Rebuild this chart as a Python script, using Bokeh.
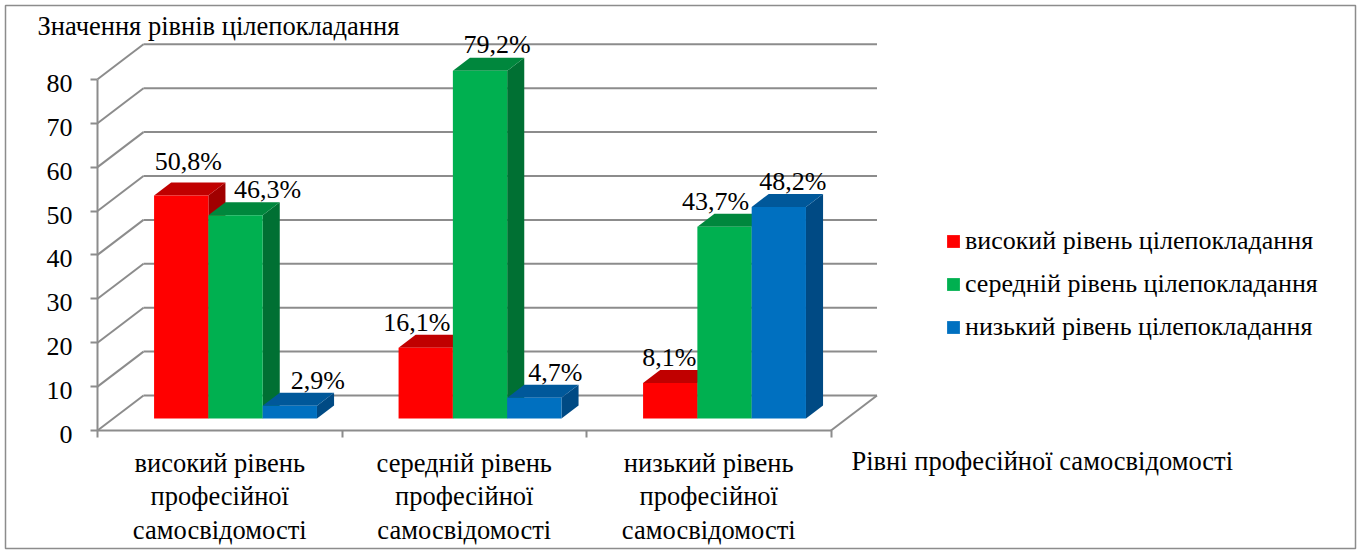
from bokeh.plotting import figure
from bokeh.models import Range1d, LinearAxis, FixedTicker, Legend, LegendItem, ColumnDataSource
from bokeh.core.properties import value
from bokeh.embed import file_html
from bokeh.resources import INLINE

# ---------------- data ----------------
categories = [
    "високий рівень\nпрофесійної\nсамосвідомості",
    "середній рівень\nпрофесійної\nсамосвідомості",
    "низький рівень\nпрофесійної\nсамосвідомості",
]
series_names = [
    "високий рівень цілепокладання",
    "середній рівень цілепокладання",
    "низький рівень цілепокладання",
]
high_goal = [50.8, 16.1, 8.1]
medium_goal = [46.3, 79.2, 43.7]
low_goal = [2.9, 4.7, 48.2]
y_ticks = [0, 10, 20, 30, 40, 50, 60, 70, 80]
y_tick_labels = ["0", "10", "20", "30", "40", "50", "60", "70", "80"]
y_title = "Значення рівнів цілепокладання"
x_title = "Рівні професійної самосвідомості"

# ---------------- styles ----------------
front_colors = ["#FF0000", "#00B050", "#0070C0"]
top_colors = ["#C00000", "#00873D", "#00589A"]
side_colors = ["#A00000", "#007033", "#004A84"]
GRID = "#8C8C8C"
FONT = "Liberation Serif"
FS = "26px"
FS_BIG = "26.5px"
# data-label nudges in screen px (bar order: category by category, series within)
label_nudge_x = [-10, 15, 11, -26, 0, 4, -18, -26, -3]
label_nudge_y = [8, 0, 0, 0, 1, 0, 0, 0, 0]

W, H = 1360, 553
BORDER = 5
X0PX, Y0PX = 97, 430          # front-left corner of the floor (value 0)
PX_CAT, PX_VAL = 244.5, 4.39  # pixels per category / per value unit

DX = 46 / PX_CAT              # floor depth, data units
DY = 35 / PX_VAL
F_FRONT, F_BACK = 12 / 35, 25 / 35
BAR_W = 54.3 / PX_CAT
GROUP_LEFT = (1 - 3 * BAR_W) / 2


def px_x(px):
    return (px - X0PX) / PX_CAT


def px_y(py):
    return (Y0PX - py) / PX_VAL


p = figure(
    width=W, height=H,
    x_range=Range1d(px_x(BORDER), px_x(W - BORDER)),
    y_range=Range1d(px_y(H - BORDER), px_y(BORDER)),
    x_axis_location=None, y_axis_location=None,
    toolbar_location=None, output_backend="svg",
    min_border_left=BORDER, min_border_right=BORDER,
    min_border_top=BORDER, min_border_bottom=BORDER,
)
p.grid.visible = False
p.outline_line_color = GRID
p.outline_line_width = 1.5

# ---------------- walls / grid ----------------
xs0, ys0, xs1, ys1 = [], [], [], []
for t in y_ticks:
    xs0.append(DX); ys0.append(t + DY); xs1.append(3 + DX); ys1.append(t + DY)
    xs0.append(0); ys0.append(t); xs1.append(DX); ys1.append(t + DY)
xs0.append(3); ys0.append(0); xs1.append(3 + DX); ys1.append(DY)
p.segment(x0=xs0, y0=ys0, x1=xs1, y1=ys1, line_color=GRID, line_width=2)

# ---------------- axes ----------------
yaxis = LinearAxis(fixed_location=0, ticker=FixedTicker(ticks=y_ticks),
                   bounds=(y_ticks[0], y_ticks[-1]))
yaxis.axis_line_color = GRID
yaxis.axis_line_width = 2
yaxis.major_tick_line_color = GRID
yaxis.major_tick_line_width = 2
yaxis.major_tick_out = 7
yaxis.major_tick_in = 0
yaxis.minor_tick_line_color = None
yaxis.major_label_text_color = None
p.add_layout(yaxis, "left")

# value labels of the vertical axis, placed left of the ticks
p.text(x=[px_x(72)] * len(y_ticks), y=y_ticks, text=y_tick_labels, y_offset=4,
       text_align="right", text_baseline="middle",
       text_font=value(FONT), text_font_size=value(FS), text_color="black")

xaxis = LinearAxis(fixed_location=0, ticker=FixedTicker(ticks=[0, 1, 2, 3]), bounds=(0, 3))
xaxis.axis_line_color = GRID
xaxis.axis_line_width = 2
xaxis.major_tick_line_color = GRID
xaxis.major_tick_line_width = 2
xaxis.major_tick_out = 7
xaxis.major_tick_in = 0
xaxis.minor_tick_line_color = None
xaxis.major_label_text_color = None
p.add_layout(xaxis, "below")

# ---------------- 3D bars ----------------
series_values = [high_goal, medium_goal, low_goal]
pxs, pys, pcol = [], [], []
lab_x, lab_y, lab_t = [], [], []
front_index = {}
d = (F_BACK - F_FRONT) * DX
e = (F_BACK - F_FRONT) * DY
for i in range(len(categories)):
    for j, vals in enumerate(series_values):
        v = vals[i]
        x0 = i + GROUP_LEFT + j * BAR_W + F_FRONT * DX
        x1 = x0 + BAR_W
        yb = F_FRONT * DY
        yt = yb + v
        pxs.append([x1, x1 + d, x1 + d, x1]); pys.append([yb, yb + e, yt + e, yt]); pcol.append(side_colors[j])
        pxs.append([x0, x1, x1 + d, x0 + d]); pys.append([yt, yt, yt + e, yt + e]); pcol.append(top_colors[j])
        pxs.append([x0, x1, x1, x0]); pys.append([yb, yb, yt, yt]); pcol.append(front_colors[j])
        if i == 0:
            front_index[j] = len(pxs) - 1
        lab_x.append(x0 + BAR_W / 2 + d)
        lab_y.append(yt + e + 12.5 / PX_VAL)
        lab_t.append(f"{v:.1f}".replace(".", ",") + "%")

bars = p.patches(xs="xs", ys="ys", fill_color="color", line_color=None,
                 source=ColumnDataSource(dict(xs=pxs, ys=pys, color=pcol)))

p.text(x="x", y="y", text="t", x_offset="dx", y_offset="dy",
       source=ColumnDataSource(dict(x=lab_x, y=lab_y, t=lab_t,
                                    dx=label_nudge_x, dy=[-v for v in label_nudge_y])),
       text_align="center", text_baseline="middle",
       text_font=value(FONT), text_font_size=value(FS), text_color="black")

# ---------------- category labels & titles ----------------
p.text(x=[i + 0.5 for i in range(len(categories))], y=[px_y(447)] * len(categories),
       text=categories, text_align="center", text_baseline="top",
       text_font=value(FONT), text_font_size=value(FS_BIG), text_color="black",
       text_line_height=1.13)

p.text(x=[px_x(37)], y=[px_y(25)], text=[y_title], text_align="left", text_baseline="middle",
       text_font=value(FONT), text_font_size=value(FS_BIG), text_color="black")
p.text(x=[px_x(851)], y=[px_y(460)], text=[x_title], text_align="left", text_baseline="middle",
       text_font=value(FONT), text_font_size=value(FS_BIG), text_color="black")

# ---------------- legend ----------------
legend = Legend(
    items=[LegendItem(label=series_names[j], renderers=[bars], index=front_index[j]) for j in range(3)],
    location=(940, 206), orientation="vertical",
    label_text_font=FONT, label_text_font_size=FS, label_text_color="black",
    glyph_width=16, glyph_height=16, label_height=30, spacing=13,
    padding=0, margin=0, label_standoff=4,
    border_line_color=None, background_fill_alpha=0,
)
p.add_layout(legend, "center")

open("out.html", "w").write(file_html(p, INLINE))
